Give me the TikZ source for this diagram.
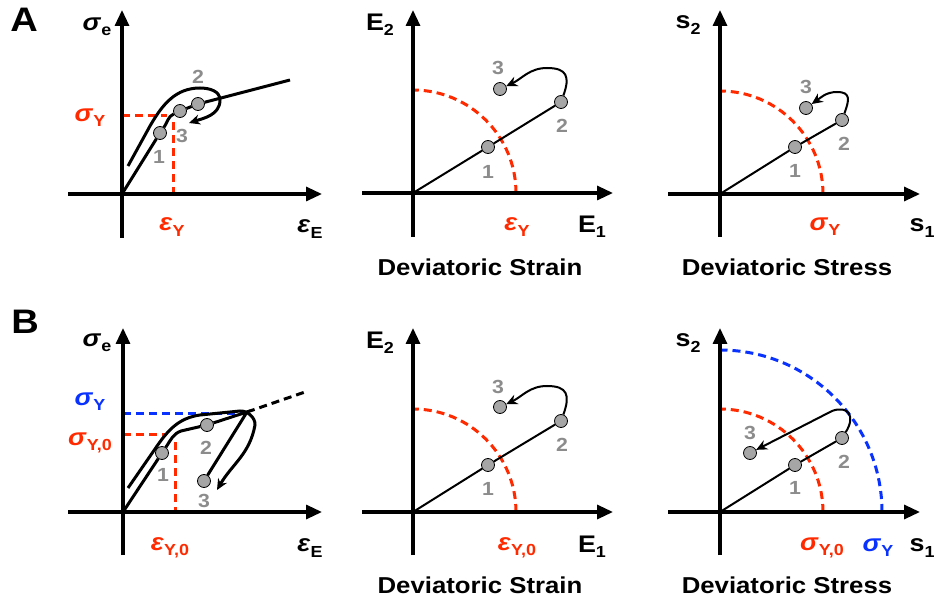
\documentclass[tikz,border=0pt]{standalone}
\usepackage{fontspec}
\setmainfont{Liberation Sans}[FakeStretch=1.12]
\usetikzlibrary{arrows.meta}
\definecolor{yieldred}{HTML}{FF2A00}
\definecolor{yieldblue}{HTML}{0A32FF}
\definecolor{numgray}{HTML}{8C8C8C}
\definecolor{ptgray}{HTML}{A6A6A6}
\newcommand{\lowix}[1]{\raisebox{-0.22em}{\fontsize{16}{16}\selectfont #1}}

\begin{document}
\begin{tikzpicture}[x=1pt, y=1pt,
  every node/.style={font=\fontsize{24}{24}\selectfont\bfseries, inner sep=0pt},
  axis/.style={line width=3.2pt, -{Triangle[length=16pt,width=14pt]}},
  curve/.style={line width=3pt},
  trail/.style={line width=2pt},
  guide/.style={line width=3pt, dash pattern=on 8pt off 5pt},
  pt/.style={circle, draw=black, line width=0.8pt, fill=ptgray, minimum size=13pt},
  num/.style={text=numgray, font=\fontsize{19}{19}\selectfont\bfseries},
  caption/.style={font=\fontsize{23}{23}\selectfont\bfseries},
  panel/.style={font=\fontsize{34}{34}\selectfont\bfseries},
  tip/.style={-{Stealth[length=11pt,width=10pt]}}]

\useasboundingbox (0,0) rectangle (937,603);

\node[panel] (labA) at (24,583) {A};
\node[panel] (labB) at (25,281) {B};

%% A, links: Spannung-Dehnung
\begin{scope}[shift={(122,409)}]
  \coordinate (a1o) at (0,0);
  \coordinate (a1xl) at (-54,0); \coordinate (a1xr) at (200,0);
  \coordinate (a1yb) at (0,-44); \coordinate (a1yt) at (0,184);
  \draw[guide, yieldred] (0,78) -- (45,78);
  \draw[guide, yieldred] (51,72) -- (51,0);
  \draw[axis] (a1xl) -- (a1xr);
  \draw[axis] (a1yb) -- (a1yt);

  \node[pt] (a1p1) at (38,61) {};
  \node[pt] (a1p3) at (58,83) {};
  \node[pt] (a1p2) at (76,90) {};
  \coordinate (a1end) at (168,114);
  \draw[curve] (a1o) -- (a1p1) to[out=55,in=205] (a1p3) -- (a1p2) -- (a1end);

  %% Wiederbelastung
  \coordinate (a1s) at (6,28);   \coordinate (a1k) at (28,68);
  \coordinate (a1top) at (78,106); \coordinate (a1rt) at (98,94);
  \coordinate (a1back) at (67,71);
  \draw[curve, tip] (a1s) -- (a1k) to[out=60,in=180] (a1top)
    to[out=0,in=90] (a1rt) to[out=-90,in=18] (a1back);

  \node[num] (a1n1) at (37,37) {1};
  \node[num] (a1n3) at (60,58) {3};
  \node[num] (a1n2) at (76,117) {2};
  \node (a1se) at (-25,167) {\textit{σ}\lowix{e}};
  \node[text=yieldred] (a1sy) at (-32,76) {\textit{σ}\lowix{Y}};
  \node[text=yieldred] (a1ey) at (50,-33) {\textit{ε}\lowix{Y}};
  \node (a1ee) at (188,-35) {\textit{ε}\lowix{E}};
\end{scope}

%% A, Mitte: deviatorische Dehnung
\begin{scope}[shift={(413,410)}]
  \coordinate (a2o) at (0,0);
  \coordinate (a2xl) at (-51,0); \coordinate (a2xr) at (200,0);
  \coordinate (a2yb) at (0,-44); \coordinate (a2yt) at (0,183);
  \draw[guide, yieldred] (103,0) arc[start angle=0, end angle=90, radius=103pt];
  \draw[axis] (a2xl) -- (a2xr);
  \draw[axis] (a2yb) -- (a2yt);

  \node[pt] (a2p1) at (75,46) {};
  \node[pt] (a2p2) at (148,91) {};
  \node[pt] (a2p3) at (87,104) {};
  \draw[trail] (a2o) -- (a2p1) -- (a2p2);
  \coordinate (a2top) at (134,125);
  \draw[trail, tip] (a2p2) to[out=70,in=0,looseness=1.6] (a2top) to[out=180,in=25] (a2p3);

  \node[num] (a2n1) at (75,21) {1};
  \node[num] (a2n2) at (149,67) {2};
  \node[num] (a2n3) at (85,125) {3};
  \node (a2e2) at (-33,168) {E\lowix{2}};
  \node (a2e1) at (179,-34) {E\lowix{1}};
  \node[text=yieldred] (a2ey) at (104,-34) {\textit{ε}\lowix{Y}};
  \node[caption] (a2cap) at (67,-74) {Deviatoric Strain};
\end{scope}

%% A, rechts: deviatorische Spannung
\begin{scope}[shift={(720,409)}]
  \coordinate (a3o) at (0,0);
  \coordinate (a3xl) at (-52,0); \coordinate (a3xr) at (200,0);
  \coordinate (a3yb) at (0,-43); \coordinate (a3yt) at (0,184);
  \draw[guide, yieldred] (103,0) arc[start angle=0, end angle=90, radius=103pt];
  \draw[axis] (a3xl) -- (a3xr);
  \draw[axis] (a3yb) -- (a3yt);

  \node[pt] (a3p1) at (75,47) {};
  \node[pt] (a3p2) at (122,74) {};
  \node[pt] (a3p3) at (86,86) {};
  \draw[trail] (a3o) -- (a3p1) -- (a3p2);
  \coordinate (a3top) at (117,102);
  \draw[trail, tip] (a3p2) to[out=70,in=0,looseness=1.6] (a3top) to[out=180,in=35] (a3p3);

  \node[num] (a3n1) at (75,23) {1};
  \node[num] (a3n2) at (124,50) {2};
  \node[num] (a3n3) at (86,107) {3};
  \node (a3s2) at (-32,169) {s\lowix{2}};
  \node (a3s1) at (202,-34) {s\lowix{1}};
  \node[text=yieldred] (a3sy) at (105,-33) {\textit{σ}\lowix{Y}};
  \node[caption] (a3cap) at (67,-73) {Deviatoric Stress};
\end{scope}

%% B, links: Spannung-Dehnung mit Verfestigung
\begin{scope}[shift={(123,91)}]
  \coordinate (b1o) at (0,0);
  \coordinate (b1xl) at (-55,0); \coordinate (b1xr) at (199,0);
  \coordinate (b1yb) at (0,-43); \coordinate (b1yt) at (0,184);
  \draw[guide, yieldblue] (0,99) -- (120,99);
  \draw[guide, yieldred] (0,78) -- (44,78);
  \draw[guide, yieldred] (52,70) -- (52,0);
  \draw[axis] (b1xl) -- (b1xr);
  \draw[axis] (b1yb) -- (b1yt);

  \node[pt] (b1p1) at (39,59) {};
  \node[pt] (b1p2) at (84,87) {};
  \node[pt] (b1p3) at (81,31) {};
  \coordinate (b1bend) at (58,81);
  \coordinate (b1peak) at (124,100);
  \coordinate (b1far) at (182,120);
  \draw[curve] (b1o) -- (b1p1) to[out=56,in=200] (b1bend) -- (b1p2) -- (b1peak) -- (b1p3);
  \draw[curve, dash pattern=on 8pt off 5pt] (b1peak) -- (b1far);

  %% Wiederbelastung
  \coordinate (b1s) at (5,24);    \coordinate (b1k) at (32,63);
  \coordinate (b1top) at (77,97); \coordinate (b1tr) at (117,101);
  \coordinate (b1rt) at (132,87); \coordinate (b1back) at (94,22);
  \draw[curve, tip] (b1s) -- (b1k) to[out=56,in=188] (b1top) -- (b1tr)
    to[out=5,in=85,looseness=0.9] (b1rt) to[out=-100,in=60] (b1back);

  \node[num] (b1n1) at (40,37) {1};
  \node[num] (b1n2) at (83,64) {2};
  \node[num] (b1n3) at (81,11) {3};
  \node (b1se) at (-26,169) {\textit{σ}\lowix{e}};
  \node[text=yieldblue] (b1sy) at (-33,110) {\textit{σ}\lowix{Y}};
  \node[text=yieldred] (b1sy0) at (-33,69) {\textit{σ}\lowix{Y,0}};
  \node[text=yieldred] (b1ey0) at (47,-36) {\textit{ε}\lowix{Y,0}};
  \node (b1ee) at (187,-36) {\textit{ε}\lowix{E}};
\end{scope}

%% B, Mitte: deviatorische Dehnung
\begin{scope}[shift={(413,91)}]
  \coordinate (b2o) at (0,0);
  \coordinate (b2xl) at (-51,0); \coordinate (b2xr) at (200,0);
  \coordinate (b2yb) at (0,-43); \coordinate (b2yt) at (0,184);
  \draw[guide, yieldred] (103,0) arc[start angle=0, end angle=90, radius=103pt];
  \draw[axis] (b2xl) -- (b2xr);
  \draw[axis] (b2yb) -- (b2yt);

  \node[pt] (b2p1) at (75,47) {};
  \node[pt] (b2p2) at (148,91) {};
  \node[pt] (b2p3) at (87,105) {};
  \draw[trail] (b2o) -- (b2p1) -- (b2p2);
  \coordinate (b2top) at (134,126);
  \draw[trail, tip] (b2p2) to[out=70,in=0,looseness=1.6] (b2top) to[out=180,in=25] (b2p3);

  \node[num] (b2n1) at (75,23) {1};
  \node[num] (b2n2) at (149,67) {2};
  \node[num] (b2n3) at (85,125) {3};
  \node (b2e2) at (-33,169) {E\lowix{2}};
  \node (b2e1) at (179,-35) {E\lowix{1}};
  \node[text=yieldred] (b2ey0) at (104,-36) {\textit{ε}\lowix{Y,0}};
  \node[caption] (b2cap) at (67,-73) {Deviatoric Strain};
\end{scope}

%% B, rechts: deviatorische Spannung
\begin{scope}[shift={(720,91)}]
  \coordinate (b3o) at (0,0);
  \coordinate (b3xl) at (-52,0); \coordinate (b3xr) at (200,0);
  \coordinate (b3yb) at (0,-43); \coordinate (b3yt) at (0,184);
  \draw[guide, yieldblue] (162,0) arc[start angle=0, end angle=90, radius=162pt];
  \draw[guide, yieldred] (103,0) arc[start angle=0, end angle=90, radius=103pt];
  \draw[axis] (b3xl) -- (b3xr);
  \draw[axis] (b3yb) -- (b3yt);

  \node[pt] (b3p1) at (75,47) {};
  \node[pt] (b3p2) at (122,74) {};
  \node[pt] (b3p3) at (30,59) {};
  \draw[trail] (b3o) -- (b3p1) -- (b3p2);
  \coordinate (b3top) at (112,101);
  \draw[trail, tip] (b3p2) .. controls +(14,22) and +(16,6) .. (b3top) -- (b3p3);

  \node[num] (b3n1) at (75,24) {1};
  \node[num] (b3n2) at (124,50) {2};
  \node[num] (b3n3) at (30,79) {3};
  \node (b3s2) at (-32,169) {s\lowix{2}};
  \node (b3s1) at (202,-36) {s\lowix{1}};
  \node[text=yieldred] (b3sy0) at (102,-36) {\textit{σ}\lowix{Y,0}};
  \node[text=yieldblue] (b3sy) at (158,-36) {\textit{σ}\lowix{Y}};
  \node[caption] (b3cap) at (67,-73) {Deviatoric Stress};
\end{scope}

\end{tikzpicture}
\end{document}
